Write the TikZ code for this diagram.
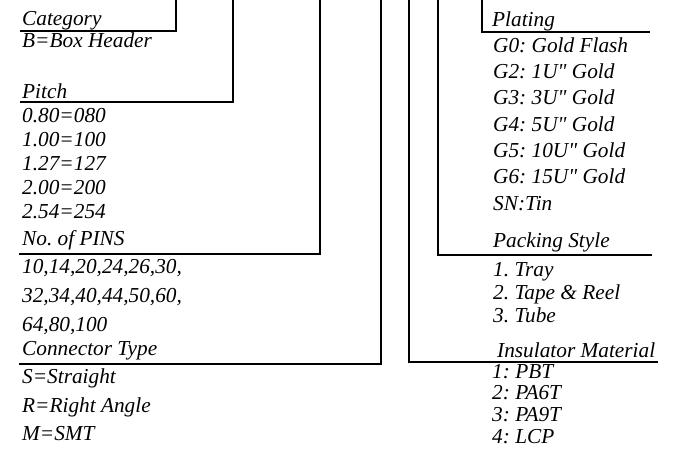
\documentclass[tikz,border=0pt]{standalone}
\usepackage{fontspec}
\setmainfont{Liberation Serif}[Ligatures=TeXOff]
\usetikzlibrary{positioning}

\begin{document}
\begin{tikzpicture}[x=1pt,y=-1pt,
    hdr/.style={anchor=base west,inner sep=0pt,
      font=\fontsize{21.3}{24}\selectfont\itshape\frenchspacing},
    opt/.style={hdr},
    brk/.style={line width=2.2pt}]
  \useasboundingbox (0,0) rectangle (673,453);
  % left column
  \node[hdr] (category) at (22,25) {Category};
  \node[opt] (boxhdr) at (22,47) {B=Box Header};
  \node[hdr] (pitch) at (22,98) {Pitch};
  \foreach \v [count=\i] in {0.80=080,1.00=100,1.27=127,2.00=200,2.54=254}
    \node[opt] (pitch\i) at (22,98+24*\i) {\v};
  \node[hdr] (pins) at (22,245) {No. of PINS};
  \foreach \v [count=\i] in {{10,14,20,24,26,30,},{32,34,40,44,50,60,},{64,80,100}}
    \node[opt] (pins\i) at (22,245+28.7*\i) {\v};
  \node[hdr] (contype) at (22,355) {Connector Type};
  \foreach \v [count=\i] in {S=Straight,R=Right Angle,M=SMT}
    \node[opt] (contype\i) at (22,355+28.5*\i) {\v};
  % right column
  \node[hdr] (plating) at (492,26) {Plating};
  \foreach \v [count=\i] in {G0: Gold Flash,G2: 1U" Gold,G3: 3U" Gold,
      G4: 5U" Gold,G5: 10U" Gold,G6: 15U" Gold,SN:Tin}
    \node[opt] (plating\i) at (493,26+26.3*\i) {\v};
  \node[hdr] (packing) at (493,247) {Packing Style};
  \foreach \v [count=\i] in {1. Tray,2. Tape \& Reel,3. Tube}
    \node[opt] (packing\i) at (493,254+22.7*\i) {\v};
  \node[hdr] (insul) at (497,357) {Insulator Material};
  \foreach \v [count=\i] in {1: PBT,2: PA6T,3: PA9T,4: LCP}
    \node[opt] (insul\i) at (492,356.5+21.7*\i) {\v};
  % brackets
  \coordinate (cattop) at (176,0);   \coordinate (catend) at (20,31);
  \coordinate (pitchtop) at (233,0); \coordinate (pitchend) at (20,102);
  \coordinate (pinstop) at (320,0);  \coordinate (pinsend) at (19,254);
  \coordinate (contop) at (381,0);   \coordinate (conend) at (19,364);
  \coordinate (instop) at (409,0);   \coordinate (insend) at (658,362);
  \coordinate (packtop) at (438,0);  \coordinate (packend) at (652,255);
  \coordinate (plattop) at (482,0);  \coordinate (platend) at (650,32);
  \foreach \b in {cat,pitch,pins,con,ins,pack,plat}
    \draw[brk] (\b top) |- (\b end);
\end{tikzpicture}
\end{document}
